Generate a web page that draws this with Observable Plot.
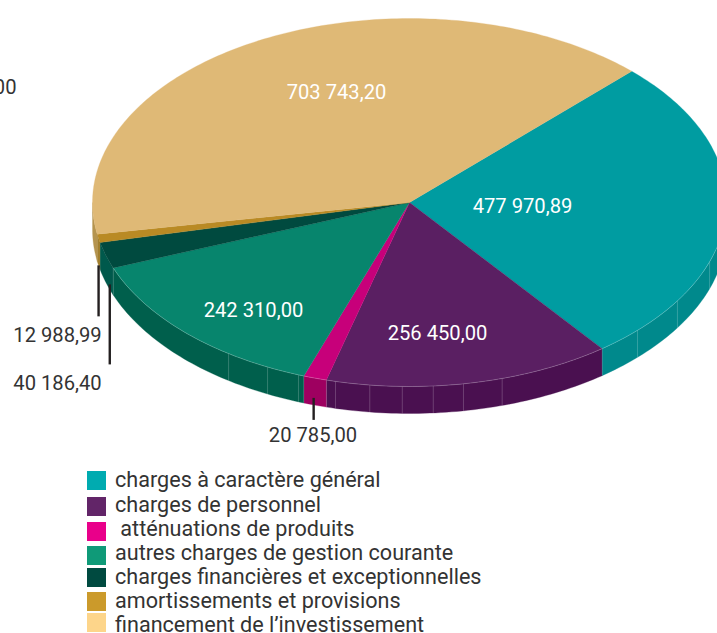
<!DOCTYPE html>
<html lang="fr"><head><meta charset="utf-8">
<script src="https://cdn.jsdelivr.net/npm/d3@7"></script>
<script src="https://cdn.jsdelivr.net/npm/@observablehq/plot@0.6"></script>
<style>
html,body{margin:0;padding:0;background:#fff;overflow:hidden}
#chart{width:717px;height:633px;position:relative;overflow:hidden;font-family:Roboto,sans-serif}
#chart svg{display:block}
.sw{position:absolute;left:87px;width:19px;height:19px}
.tx{position:absolute;left:115px;font-size:21.6px;line-height:16px;height:16px;color:#333;white-space:pre}
</style></head><body><div id="chart"></div>
<script>
// Data
const categories = ["charges à caractère général","charges de personnel"," atténuations de produits","autres charges de gestion courante","charges financières et exceptionnelles","amortissements et provisions","financement de l’investissement"];
const values = [477970.89,256450.00,20785.00,242310.00,40186.40,12988.99,703743.20];
const valueLabels = ["477 970,89","256 450,00","20 785,00","242 310,00","40 186,40","12 988,99","703 743,20"];
const topColors = ["#009ca1","#5a1f62","#c7007a","#07856d","#004a3f","#b98a24","#dfb976"];
const sideColors = ["#00898c","#4a1050","#9e0060","#005f4c","#00594c","#a27f2e","#b5944f"];
const legendColors = ["#00abb0","#622568","#e9008a","#0f9a78","#004a40","#cb9a2b","#fdd58a"];
const seamDegrees = [44,32.3,18.8,103.5,97.2,91.3,85.7,80.2,73,124.8,116.6,110.5];

// Layout
const W=717,H=460,cx=409,cy=202,rx=317,ry=184,depth=27/ry;
const swatchTops=[471,497,522,546,568,592,613];
const textTops=[472,497,521,545,569,593,617];
const rad=Math.PI/180;
const ux=p=>(p-cx)/rx, uy=p=>(p-cy)/ry;
const pie=d3.pie().sort(null).startAngle(0).endAngle(2*Math.PI)(values);
const rot=45.5*rad;
const slices=pie.map((p,i)=>({i,a0:p.startAngle-rot,a1:p.endAngle-rot}));
const arc=(a0,a1,dz=0)=>{const n=Math.max(2,Math.ceil((a1-a0)/rad));return d3.range(n+1).map(k=>{const a=a0+(a1-a0)*k/n;return {x:Math.cos(a),y:Math.sin(a)+dz};});};

const marks=[];
// side walls (front half only)
slices.forEach(s=>{
  const a0=Math.max(s.a0,0),a1=Math.min(s.a1,Math.PI);
  if(a1>a0){marks.push(Plot.line([...arc(a0,a1),...arc(a0,a1,depth).reverse()],{x:"x",y:"y",fill:sideColors[s.i],stroke:sideColors[s.i],strokeWidth:.3}));}
});
// seams
marks.push(Plot.link(seamDegrees,{x1:d=>Math.cos(d*rad),x2:d=>Math.cos(d*rad),y1:d=>Math.sin(d*rad),y2:d=>Math.sin(d*rad)+depth,stroke:"#fff",strokeOpacity:.25,strokeWidth:.8}));
// slice boundaries on wall
[slices[0].a1,slices[1].a1,slices[2].a1,slices[3].a1].forEach(a=>{marks.push(Plot.link([a],{x1:d=>Math.cos(d),x2:d=>Math.cos(d),y1:d=>Math.sin(d),y2:d=>Math.sin(d)+depth,stroke:"#fff",strokeOpacity:.2,strokeWidth:.6}));});
// top faces
slices.forEach(s=>{
  marks.push(Plot.line([{x:0,y:0},...arc(s.a0,s.a1),{x:0,y:0}],{x:"x",y:"y",fill:topColors[s.i],stroke:topColors[s.i],strokeWidth:.3}));
});
// front rim highlight
marks.push(Plot.line(arc(0,slices[3].a1),{x:"x",y:"y",stroke:"#fff",strokeOpacity:.35,strokeWidth:.6}));
// leaders
const leaders=[{a:slices[5].a0/2+slices[5].a1/2,start:0,len:51},{a:161*rad,start:-5,len:80},{a:107.6*rad,start:-7,len:22}];
marks.push(Plot.link(leaders,{x1:d=>Math.cos(d.a),x2:d=>Math.cos(d.a),y1:d=>Math.sin(d.a)+depth+d.start/ry,y2:d=>Math.sin(d.a)+depth+(d.start+d.len)/ry,stroke:"#231f20",strokeWidth:2.4}));
// labels
const labels=[
 {t:valueLabels[6],px:336,py:92,c:"#fff",a:"middle"},
 {t:valueLabels[0],px:522,py:206,c:"#fff",a:"middle"},
 {t:valueLabels[1],px:437,py:333,c:"#fff",a:"middle"},
 {t:valueLabels[3],px:253,py:310,c:"#fff",a:"middle"},
 {t:valueLabels[5],px:57,py:335,c:"#333",a:"middle"},
 {t:valueLabels[4],px:57,py:383,c:"#333",a:"middle"},
 {t:valueLabels[2],px:312.5,py:435,c:"#333",a:"middle"},
 {t:"00",px:16,py:87,c:"#333",a:"end"}
];
labels.forEach(l=>marks.push(Plot.text([l],{x:d=>ux(d.px),y:d=>uy(d.py),text:"t",fill:l.c,textAnchor:l.a,fontSize:20.2,fontFamily:"Roboto,sans-serif"})));

const plot=Plot.plot({width:W,height:H,marginTop:0,marginRight:0,marginBottom:0,marginLeft:0,
 style:{background:"transparent",overflow:"hidden"},
 x:{domain:[ux(0),ux(W)],range:[0,W],axis:null},
 y:{domain:[uy(0),uy(H)],range:[0,H],axis:null},
 marks});
const root=document.getElementById("chart");
root.appendChild(plot);
categories.forEach((c,i)=>{
 const s=document.createElement("div");s.className="sw";s.style.background=legendColors[i];s.style.top=swatchTops[i]+"px";
 const t=document.createElement("div");t.className="tx";t.textContent=c;t.style.top=textTops[i]+"px";
 root.append(s,t);
});
</script></body></html>
